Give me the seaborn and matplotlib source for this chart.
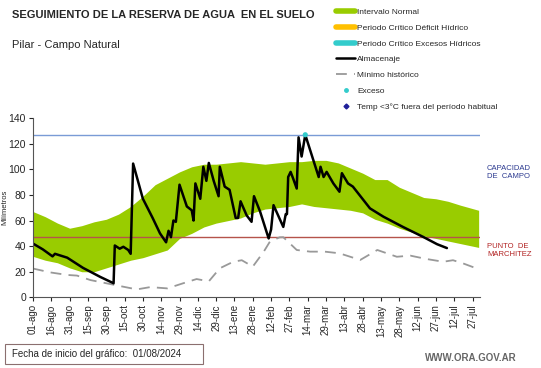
import numpy as np
import pandas as pd
import seaborn as sns
import matplotlib.pyplot as plt
from matplotlib.lines import Line2D
from matplotlib.patches import Rectangle

# tick labels every 15 days from 01-ago
tick_labels = ["01-ago", "16-ago", "31-ago", "15-sep", "30-sep", "15-oct", "30-oct",
               "14-nov", "29-nov", "14-dic", "29-dic", "13-ene", "28-ene", "12-feb",
               "27-feb", "14-mar", "29-mar", "13-abr", "28-abr", "13-may", "28-may",
               "12-jun", "27-jun", "12-jul", "27-jul"]

# intervalo normal (banda verde)
band_days = [0, 10, 20, 30, 40, 50, 60, 70, 80, 90, 100, 110, 120, 130, 140, 150, 160, 170,
             180, 190, 200, 210, 220, 230, 240, 250, 260, 270, 280, 290, 300, 310, 320,
             330, 340, 350, 365]
band_upper = [67, 63, 58, 54, 56, 59, 61, 65, 71, 79, 88, 93, 98, 102, 104, 104, 105, 106,
              105, 104, 105, 106, 106, 107, 107, 105, 101, 97, 92, 92, 86, 82, 78,
              77, 75, 72, 68]
band_lower = [32, 29, 27, 23, 20, 20, 23, 26, 29, 31, 34, 37, 46, 50, 55, 58, 60, 62,
              66, 69, 70, 71, 73, 71, 70, 69, 68, 66, 61, 58, 54, 51, 48,
              46, 44, 42, 39]

# almacenaje
alm_days = [0, 8, 16, 18, 28, 41, 55, 66, 67, 71, 74, 78, 80, 82, 90, 98, 104, 109, 111, 113,
            115, 117, 120, 126, 130, 131.5, 133, 137, 139.5, 142, 144, 148, 152, 153, 157,
            161, 166, 168, 170, 175, 179, 181, 186, 193, 195, 197, 205, 207, 208, 209, 211,
            213, 216, 217.5, 220, 223, 230, 234, 235.5, 238, 240.5, 246, 251, 253, 258,
            262, 276, 287, 303, 320, 331, 339]
alm_vals = [42, 37.5, 32, 34, 31, 23, 16, 11, 40.5, 38, 39.5, 37, 34, 104.5, 77, 62, 50, 43,
            52, 47, 60, 59, 88, 71, 68, 60, 89, 77, 102, 91, 105, 91, 79, 102, 86.5,
            84, 62, 62, 75, 64, 59, 79, 67, 46, 53, 72, 55, 65, 65, 94, 98,
            93, 85, 125, 110, 127, 106, 94, 102, 94, 98, 89, 82.5, 97, 89,
            86.5, 69.5, 63, 55, 47, 41.5, 38.5]

# minimo historico
min_days = [0, 14, 28, 36, 47, 60, 74, 85, 96, 110, 123, 134, 144, 153, 164, 171, 180, 189,
            194, 202, 205, 216, 227, 239, 251, 268, 282, 298, 309, 322, 336, 344, 352, 365]
min_vals = [22.5, 19.5, 17.5, 17, 13.5, 11, 8.3, 6.2, 8, 7, 11, 14.3, 12.5, 22.7, 27.8, 29,
            24, 35.7, 43.5, 46.9, 47, 37, 35.7, 35.7, 34.4, 29.2, 37, 31.7, 32.6, 30,
            27.8, 29, 26.6, 22]

exceso_day = [223]
exceso_val = [127]

capacidad = 127
marchitez = 47

sns.set_theme(style="ticks")
plt.rcParams["font.family"] = ["Liberation Sans", "DejaVu Sans"]

fig = plt.figure(figsize=(5.41, 3.68), dpi=100)
ax = fig.add_axes([0.061, 0.192, 0.826, 0.487])

ax.fill_between(band_days, band_lower, band_upper, color="#99CC00", linewidth=0)
ax.axhline(capacidad, color="#7A9BD6", linewidth=1)
ax.axhline(marchitez, color="#B5534B", linewidth=1)

df_min = pd.DataFrame({"dia": min_days, "mm": min_vals})
sns.lineplot(data=df_min, x="dia", y="mm", ax=ax, color="#999999", linewidth=1.3,
             dashes=False, linestyle=(0, (6, 4)))
df_alm = pd.DataFrame({"dia": alm_days, "mm": alm_vals})
sns.lineplot(data=df_alm, x="dia", y="mm", ax=ax, color="black", linewidth=1.8)
sns.scatterplot(x=exceso_day, y=exceso_val, ax=ax, color="#33CCCC", s=14,
                edgecolor="none", zorder=5)

ax.set_xlim(0, 366)
ax.set_ylim(0, 140)
ax.set_xticks(np.arange(len(tick_labels)) * 15)
ax.set_xticklabels(tick_labels, rotation=90, fontsize=7)
ax.set_yticks(range(0, 141, 20))
ax.tick_params(axis="y", labelsize=7.5, length=3, width=0.8, pad=2)
ax.tick_params(axis="x", length=3, width=0.8, pad=2)
ax.set_xlabel("")
ax.set_ylabel("Milímetros", fontsize=5.5)
ax.yaxis.set_label_coords(-0.056, 0.5)
for s in ["top", "right"]:
    ax.spines[s].set_visible(False)
for s in ["left", "bottom"]:
    ax.spines[s].set_color("#555555")
    ax.spines[s].set_linewidth(0.8)

# textos
fig.text(12 / 541, 1 - 15 / 368, "SEGUIMIENTO DE LA RESERVA DE AGUA  EN EL SUELO",
         fontsize=8, fontweight="bold", va="center")
fig.text(12 / 541, 1 - 45 / 368, "Pilar - Campo Natural", fontsize=8, va="center")
fig.text(487 / 541, 1 - 172 / 368, "CAPACIDAD\nDE  CAMPO", fontsize=5.5, color="#2B3990",
         va="center", linespacing=1.2)
fig.text(487 / 541, 1 - 251 / 368, "PUNTO  DE\nMARCHITEZ", fontsize=5.5, color="#B22222",
         va="center", linespacing=1.2)
fig.text(517 / 541, 1 - 358 / 368, "WWW.ORA.GOV.AR", fontsize=7, color="#666666",
         fontweight="bold", ha="right", va="center")
fig.text(12 / 541, 1 - 354 / 368, "Fecha de inicio del gráfico:  01/08/2024", fontsize=7,
         va="center")
fig.patches.append(Rectangle((5 / 541, 1 - 364 / 368), 198 / 541, 20 / 368,
                             transform=fig.transFigure, fill=False, edgecolor="#8B6F6F",
                             linewidth=0.8))

handles = [
    Line2D([], [], color="#99CC00", linewidth=4),
    Line2D([], [], color="#FFC000", linewidth=4),
    Line2D([], [], color="#33CCCC", linewidth=4),
    Line2D([], [], color="black", linewidth=1.8),
    Line2D([], [], color="#999999", linewidth=1.3, linestyle=(0, (6, 4))),
    Line2D([], [], color="#33CCCC", marker="o", markersize=2.5, linestyle="none"),
    Line2D([], [], color="#1F1F99", marker="D", markersize=2.5, linestyle="none"),
]
labels = ["Intervalo Normal", "Periodo Crítico Déficit Hídrico",
          "Periodo Crítico Excesos Hídricos", "Almacenaje", "Mínimo histórico", "Exceso",
          "Temp <3°C fuera del período habitual"]
fig.legend(handles, labels, loc="upper left", bbox_to_anchor=(333 / 541, 1 - 5 / 368),
           frameon=False, fontsize=6, handlelength=2.2, handletextpad=0.3,
           labelspacing=0.95, borderaxespad=0)

fig.savefig("out.png", dpi=100)
